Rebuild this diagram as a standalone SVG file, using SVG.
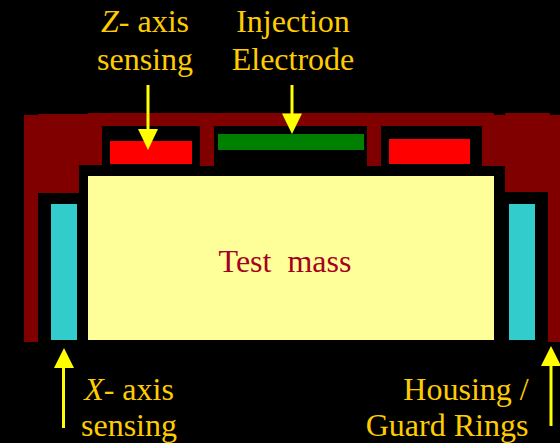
<svg xmlns="http://www.w3.org/2000/svg" width="560" height="443" viewBox="0 0 560 443">
<style>
text{font-family:"Liberation Serif","Times New Roman",serif;font-size:32px}
.l{fill:#ffcc00;text-anchor:middle}
.h{fill:#800000}
.a{stroke:#ffff00;stroke-width:3;fill:none}
.t{fill:#ffff00}
</style>
<rect width="560" height="443" fill="#000"/>
<g id="housing">
<path class="h" d="M24 115H38V114H88V113H494V115H505V113H550V115H560V342H548V192H505V166H482V126H381V166H367V126H214V166H200V126H102V165H79V193H38V342H24Z"/>
</g>
<g id="test-mass"><rect x="88" y="176" width="406" height="164" fill="#ffff99"/><text x="285" y="272" text-anchor="middle" fill="#a50021" xml:space="preserve">Test  mass</text></g>
<g id="z-electrode-left"><rect x="110" y="141" width="82" height="23" fill="#ff0000"/></g>
<g id="injection-electrode"><rect x="218" y="134" width="146" height="16" fill="#008000"/></g>
<g id="z-electrode-right"><rect x="389" y="139" width="81" height="25" fill="#ff0000"/></g>
<g id="x-electrode-left"><rect x="51" y="204" width="26" height="136" fill="#33cccc"/></g>
<g id="x-electrode-right"><rect x="509" y="204" width="26" height="136" fill="#33cccc"/></g>
<g id="connectors">
<path class="a" d="M148 85V130"/><path class="t" d="M138 129H158L148 150Z"/>
<path class="a" d="M292 85V114"/><path class="t" d="M282 113.500H302L292 134Z"/>
<path class="a" d="M63.500 428V367"/><path class="t" d="M54 368H74L64 348Z"/>
<path class="a" d="M551 426V365"/><path class="t" d="M541 366H561L551 346Z"/>
</g>
<g id="label-z"><text class="l" x="145" y="32"><tspan font-style="italic">Z</tspan>- axis</text><text class="l" x="145" y="70">sensing</text></g>
<g id="label-injection"><text class="l" x="293" y="32">Injection</text><text class="l" x="293" y="70">Electrode</text></g>
<g id="label-x"><text class="l" x="129" y="400"><tspan font-style="italic">X</tspan>- axis</text><text class="l" x="129" y="436">sensing</text></g>
<g id="label-housing"><text class="l" x="466" y="400">Housing /</text><text class="l" x="447" y="436">Guard Rings</text></g>
</svg>
